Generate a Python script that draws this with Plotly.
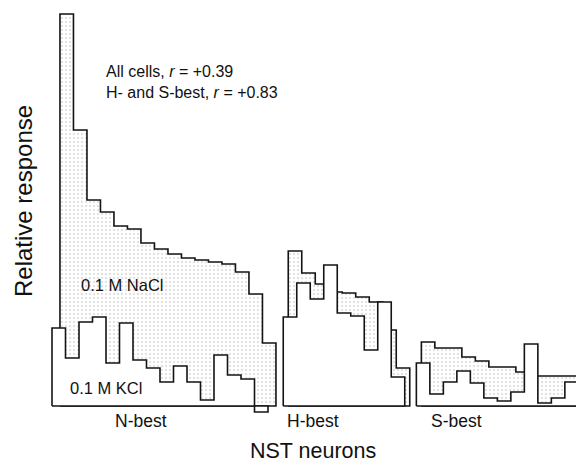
import plotly.graph_objects as go

# ---- data (relative response, arbitrary units) ----
panels = ["N-best", "H-best", "S-best"]
nacl_n = [39.2, 27.6, 20.6, 19.4, 18.0, 17.7, 16.3, 15.7, 15.2, 14.8, 14.6, 14.4, 14.2, 13.4, 11.2, 6.3]
kcl_n = [7.8, 4.8, 8.4, 8.9, 4.3, 8.3, 4.6, 3.8, 2.4, 4.0, 2.4, 0.6, 5.1, 3.1, 2.7, -0.6]
nacl_h = [15.5, 13.3, 12.2, 11.4, 11.3, 10.9, 10.4, 7.6, 3.8]
kcl_h = [8.9, 12.3, 10.7, 14.1, 9.3, 9.0, 5.6, 10.4, 2.9]
nacl_s = [6.4, 5.8, 5.8, 4.9, 4.5, 3.9, 3.9, 3.4, 3.0, 3.0, 3.0, 3.0]
kcl_s = [4.3, 1.2, 2.4, 3.5, 2.3, 0.8, 0.5, 1.4, 6.2, 0.3, 0.8, 2.4]

# ---- layout constants (neuron-index units) ----
panel_start = [0.0, 17.13, 26.99]
nacl_shift = [0.59, 0.37, 0.37]
W, H = 576, 465
BASE_PX = 406.0
PX_PER_BIN = 13.5
PX_PER_UNIT = 10.0

def step_polygon(start, vals):
    xs, ys = [start], [0]
    for i, v in enumerate(vals):
        xs += [start + i, start + i + 1]
        ys += [v, v]
    n = len(vals)
    xs += [start + n, start]
    ys += [0, 0]
    return xs, ys

fig = go.Figure()
line = dict(color="#141414", width=1.6)
data = [(nacl_n, kcl_n), (nacl_h, kcl_h), (nacl_s, kcl_s)]
for p, (na, k) in enumerate(data):
    xs, ys = step_polygon(panel_start[p] + nacl_shift[p], na)
    fig.add_trace(go.Scatter(x=xs, y=ys, mode="lines", fill="toself",
                             fillcolor="white",
                             fillpattern=dict(shape=".", fgcolor="#a8a8a8", bgcolor="white",
                                              size=4, solidity=0.16),
                             line=line, hoverinfo="skip", showlegend=False))
    xs, ys = step_polygon(panel_start[p], k)
    fig.add_trace(go.Scatter(x=xs, y=ys, mode="lines", fill="toself",
                             fillcolor="white", line=line,
                             hoverinfo="skip", showlegend=False))

x0 = -52.0 / PX_PER_BIN
x1 = (W - 52.0) / PX_PER_BIN
ytop = BASE_PX / PX_PER_UNIT
ybot = -(H - BASE_PX) / PX_PER_UNIT

font = "Liberation Sans, Arial, Helvetica, sans-serif"

def px(xp, yp):
    return xp / W, 1 - yp / H

anns = []
def add(text, xp, yp, size, angle=0, xanchor="center"):
    x, y = px(xp, yp)
    anns.append(dict(text=text, x=x, y=y, xref="paper", yref="paper",
                     showarrow=False, xanchor=xanchor, yanchor="middle",
                     textangle=angle, borderpad=0,
                     font=dict(family=font, size=size, color="#111")))

add("All cells, <i>r</i> = +0.39", 105, 72, 16, xanchor="left")
add("H- and S-best, <i>r</i> = +0.83", 105, 93, 16, xanchor="left")
add("0.1 M NaCl", 122, 285, 16.5)
add("0.1 M KCl", 106, 388, 16.5)
add("N-best", 141, 421, 17.5)
add("H-best", 313, 421, 17.5)
add("S-best", 456, 421, 17.5)
add("NST neurons", 313, 451, 21.5)
add("Relative response", 23, 201, 24, angle=-90)

fig.update_layout(
    width=W, height=H,
    margin=dict(l=0, r=0, t=0, b=0),
    paper_bgcolor="white", plot_bgcolor="white",
    xaxis=dict(range=[x0, x1], visible=False, fixedrange=True),
    yaxis=dict(range=[ybot, ytop], visible=False, fixedrange=True),
    annotations=anns,
    showlegend=False,
)

fig.write_html("out.html", config={"displayModeBar": False},
               post_script="document.body.style.margin='0';document.body.style.overflow='hidden';")
